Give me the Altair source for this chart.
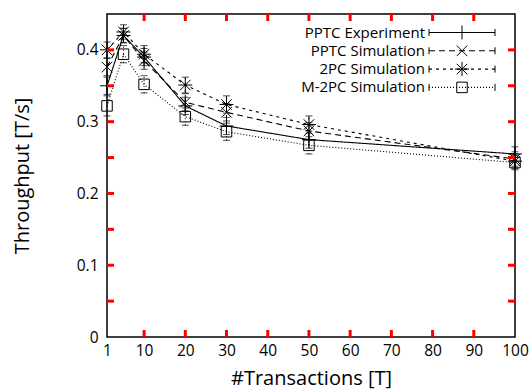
import altair as alt
import pandas as pd

# Measured throughput per number of concurrent transactions
transactions = [1, 5, 10, 20, 30, 50, 100]
series_names = ["PPTC Experiment", "PPTC Simulation", "2PC Simulation", "M-2PC Simulation"]
pptc_experiment = [0.350, 0.420, 0.390, 0.322, 0.294, 0.275, 0.255]
pptc_simulation = [0.376, 0.420, 0.385, 0.327, 0.313, 0.287, 0.248]
twopc_simulation = [0.400, 0.425, 0.394, 0.351, 0.324, 0.296, 0.245]
m2pc_simulation = [0.322, 0.394, 0.352, 0.307, 0.286, 0.267, 0.243]
# Half-width of the error bars
pptc_experiment_err = [0.012, 0.010, 0.012, 0.012, 0.012, 0.012, 0.010]
pptc_simulation_err = [0.012, 0.010, 0.012, 0.012, 0.012, 0.012, 0.010]
twopc_simulation_err = [0.011, 0.010, 0.012, 0.011, 0.012, 0.012, 0.010]
m2pc_simulation_err = [0.014, 0.012, 0.012, 0.012, 0.012, 0.012, 0.010]

x_ticks = [1, 10, 20, 30, 40, 50, 60, 70, 80, 90, 100]
y_ticks = [0, 0.05, 0.1, 0.15, 0.2, 0.25, 0.3, 0.35, 0.4, 0.45]

values = [pptc_experiment, pptc_simulation, twopc_simulation, m2pc_simulation]
errors = [pptc_experiment_err, pptc_simulation_err, twopc_simulation_err, m2pc_simulation_err]

rows = []
for name, vals, errs in zip(series_names, values, errors):
    for t, v, e in zip(transactions, vals, errs):
        rows.append({"series": name, "T": t, "tput": v, "lo": v - e, "hi": v + e})
df = pd.DataFrame(rows)

W, H = 408, 323
FONT = "Open Sans"
TICK = 7

dashes = [[1, 0], [6, 4], [3, 4], [1, 2]]
PLUS = "M-1,0L1,0M0,-1L0,1"
CROSS = "M-0.75,-0.75L0.75,0.75M-0.75,0.75L0.75,-0.75"
STAR = "M-1,0L1,0M0,-1L0,1M-0.75,-0.75L0.75,0.75M-0.75,0.75L0.75,-0.75"
SQUARE = "M-0.75,-0.75L0.75,-0.75L0.75,0.75L-0.75,0.75Z"
shapes = [PLUS, CROSS, STAR, SQUARE]

xs = alt.Scale(domain=[1, 100], nice=False, zero=False)
ys = alt.Scale(domain=[0, 0.45], nice=False, zero=True)
dash_scale = alt.Scale(domain=series_names, range=dashes)
shape_scale = alt.Scale(domain=series_names, range=shapes)

x_axis = alt.Axis(
    values=x_ticks, title="#Transactions [T]", grid=False, domain=False, ticks=False,
    labelOverlap=False, labelFlush=False, labelFont=FONT, labelFontSize=15.5,
    labelColor="black", labelPadding=6, titleFont=FONT, titleFontSize=20,
    titleFontWeight="normal", titleColor="black", titleY=41, titleBaseline="middle")
y_axis = alt.Axis(
    values=y_ticks, format="~g", title="Throughput [T/s]", grid=False, domain=False,
    ticks=False, labelOverlap=False, labelFont=FONT, labelFontSize=15.5,
    labelColor="black", labelPadding=9, titleFont=FONT, titleFontSize=20,
    titleFontWeight="normal", titleColor="black", titleX=-85, titleY=H / 2,
    titleAngle=-90, titleAlign="center", titleBaseline="middle")

X = alt.X("T:Q", scale=xs, axis=x_axis)


def Y(field):
    return alt.Y(field, type="quantitative", scale=ys, axis=y_axis)


base = alt.Chart(df)

lines = base.mark_line(color="black", strokeWidth=1.1).encode(
    x=X, y=Y("tput"),
    strokeDash=alt.StrokeDash("series:N", scale=dash_scale, legend=None),
    detail="series:N",
)

bars = base.mark_rule(color="black", strokeWidth=1).encode(
    x=X, y=Y("lo"), y2="hi:Q",
    strokeDash=alt.StrokeDash("series:N", scale=dash_scale, legend=None),
)
caps_lo = base.mark_tick(color="black", orient="horizontal", size=7, thickness=1).encode(
    x=X, y=Y("lo"))
caps_hi = base.mark_tick(color="black", orient="horizontal", size=7, thickness=1).encode(
    x=X, y=Y("hi"))

points = base.mark_point(color="black", filled=False, strokeWidth=1, size=196, opacity=1).encode(
    x=X, y=Y("tput"),
    shape=alt.Shape("series:N", scale=shape_scale, legend=None),
)

# Inward tick marks on all four sides of the frame
xt = pd.DataFrame({"T": x_ticks[1:-1]})
yt = pd.DataFrame({"tput": y_ticks[1:-1]})
tick_bottom = alt.Chart(xt).mark_rule(color="red", strokeWidth=3).encode(
    x=alt.X("T:Q", scale=xs), y=alt.value(H - TICK), y2=alt.value(H))
tick_top = alt.Chart(xt).mark_rule(color="red", strokeWidth=3).encode(
    x=alt.X("T:Q", scale=xs), y=alt.value(0), y2=alt.value(TICK))
tick_left = alt.Chart(yt).mark_rule(color="red", strokeWidth=3).encode(
    y=alt.Y("tput:Q", scale=ys), x=alt.value(0), x2=alt.value(TICK))
tick_right = alt.Chart(yt).mark_rule(color="red", strokeWidth=3).encode(
    y=alt.Y("tput:Q", scale=ys), x=alt.value(W - TICK), x2=alt.value(W))

# Legend in the upper right corner
legend_layers = []
for i, name in enumerate(series_names):
    ly = 18.5 + 18.3 * i
    x0, x1 = 322, 388
    xm = (x0 + x1) / 2
    legend_layers.append(
        alt.Chart().mark_text(text=name, align="right", baseline="middle", font=FONT,
                              fontSize=15, color="black").encode(
            x=alt.value(318), y=alt.value(ly)))
    legend_layers.append(
        alt.Chart().mark_rule(color="black", strokeWidth=1.1, strokeDash=dashes[i]).encode(
            x=alt.value(x0), x2=alt.value(x1), y=alt.value(ly)))
    for xe in (x0, x1):
        legend_layers.append(
            alt.Chart().mark_rule(color="black", strokeWidth=1).encode(
                x=alt.value(xe), y=alt.value(ly - 3.5), y2=alt.value(ly + 3.5)))
    legend_layers.append(
        alt.Chart().mark_point(color="black", filled=False, strokeWidth=1, size=196,
                               shape=shapes[i], opacity=1).encode(
            x=alt.value(xm), y=alt.value(ly)))

chart = alt.layer(
    lines, bars, caps_lo, caps_hi, points,
    tick_bottom, tick_top, tick_left, tick_right,
    *legend_layers,
).properties(
    width=W, height=H,
    background="white",
    autosize=alt.AutoSizeParams(type="none"),
    padding={"left": 107, "top": 14, "right": 15, "bottom": 55},
).configure_view(
    stroke="black", strokeWidth=1.5
)

chart.save("out.html", embed_options={"renderer": "svg", "actions": False})
